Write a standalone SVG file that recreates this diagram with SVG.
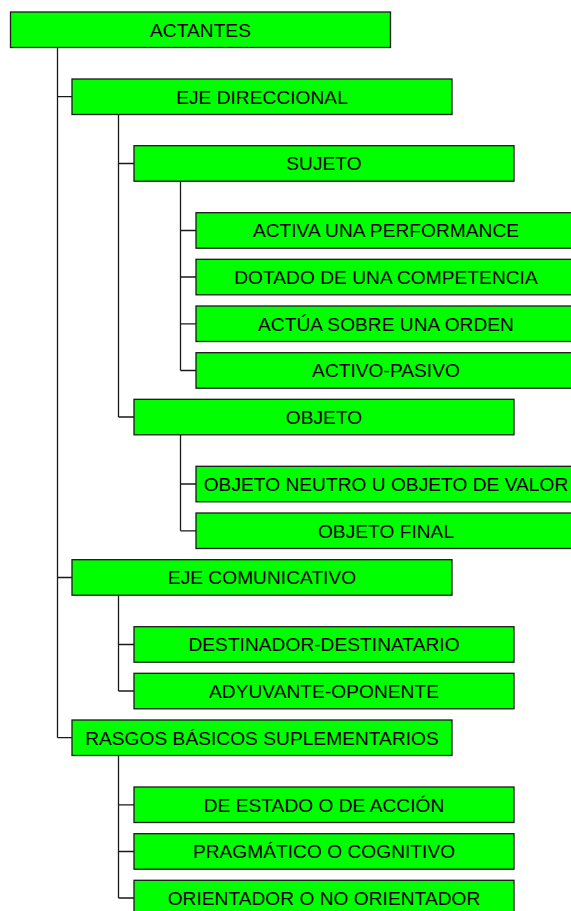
<svg xmlns="http://www.w3.org/2000/svg" width="571" height="911" viewBox="0 0 571 911">
<style>
.box{fill:#00ff00;stroke:#1a1a1a;stroke-width:1.3}
.t{font-family:"Liberation Sans",Arial,sans-serif;font-size:19.2px;fill:#000;text-anchor:middle}
.c{fill:none;stroke:#1a1a1a;stroke-width:1.3}
</style>
<rect width="571" height="911" fill="#fff"/>
<g id="connectors">
<path class="c" d="M57.5 47.5V737.7M57.5 96.7H72M57.5 577.5H72M57.5 737.7H72"/>
<path class="c" d="M118.5 114.5V417M118.5 163.5H134M118.5 417H134"/>
<path class="c" d="M180.5 181.2V370.5M180.5 230.5H196M180.5 277H196M180.5 323.8H196M180.5 370.5H196"/>
<path class="c" d="M180.5 434.8V530.8M180.5 484H196M180.5 530.8H196"/>
<path class="c" d="M118.5 595.2V691M118.5 644.5H134M118.5 691H134"/>
<path class="c" d="M118.5 755.5V898M118.5 804.8H134M118.5 851.5H134M118.5 898H134"/>
</g>
<g id="n_actantes"><rect class="box" x="10.5" y="12" width="380" height="35.5"/><text class="t" x="200.5" y="36.5">ACTANTES</text></g>
<g id="n_eje_dir"><rect class="box" x="72" y="79" width="380" height="35.5"/><text class="t" x="262" y="103.5">EJE DIRECCIONAL</text></g>
<g id="n_sujeto"><rect class="box" x="134" y="145.7" width="380" height="35.5"/><text class="t" x="324" y="170.2">SUJETO</text></g>
<g id="n_activa"><rect class="box" x="196" y="212.7" width="380" height="35.5"/><text class="t" x="386" y="237.2">ACTIVA UNA PERFORMANCE</text></g>
<g id="n_dotado"><rect class="box" x="196" y="259.3" width="380" height="35.5"/><text class="t" x="386" y="283.8">DOTADO DE UNA COMPETENCIA</text></g>
<g id="n_actua"><rect class="box" x="196" y="306" width="380" height="35.5"/><text class="t" x="386" y="330.5">ACTÚA SOBRE UNA ORDEN</text></g>
<g id="n_activo"><rect class="box" x="196" y="352.7" width="380" height="35.5"/><text class="t" x="386" y="377.2">ACTIVO-PASIVO</text></g>
<g id="n_objeto"><rect class="box" x="134" y="399.3" width="380" height="35.5"/><text class="t" x="324" y="423.8">OBJETO</text></g>
<g id="n_neutro"><rect class="box" x="196" y="466.3" width="380" height="35.5"/><text class="t" x="386" y="490.8">OBJETO NEUTRO U OBJETO DE VALOR</text></g>
<g id="n_final"><rect class="box" x="196" y="513" width="380" height="35.5"/><text class="t" x="386" y="537.5">OBJETO FINAL</text></g>
<g id="n_eje_com"><rect class="box" x="72" y="559.7" width="380" height="35.5"/><text class="t" x="262" y="584.2">EJE COMUNICATIVO</text></g>
<g id="n_dest"><rect class="box" x="134" y="626.7" width="380" height="35.5"/><text class="t" x="324" y="651.2">DESTINADOR-DESTINATARIO</text></g>
<g id="n_ady"><rect class="box" x="134" y="673.3" width="380" height="35.5"/><text class="t" x="324" y="697.8">ADYUVANTE-OPONENTE</text></g>
<g id="n_rasgos"><rect class="box" x="72" y="720" width="380" height="35.5"/><text class="t" x="262" y="744.5">RASGOS BÁSICOS SUPLEMENTARIOS</text></g>
<g id="n_estado"><rect class="box" x="134" y="787" width="380" height="35.5"/><text class="t" x="324" y="811.5">DE ESTADO O DE ACCIÓN</text></g>
<g id="n_prag"><rect class="box" x="134" y="833.7" width="380" height="35.5"/><text class="t" x="324" y="858.2">PRAGMÁTICO O COGNITIVO</text></g>
<g id="n_orient"><rect class="box" x="134" y="880.3" width="380" height="35.5"/><text class="t" x="324" y="904.8">ORIENTADOR O NO ORIENTADOR</text></g>
</svg>
